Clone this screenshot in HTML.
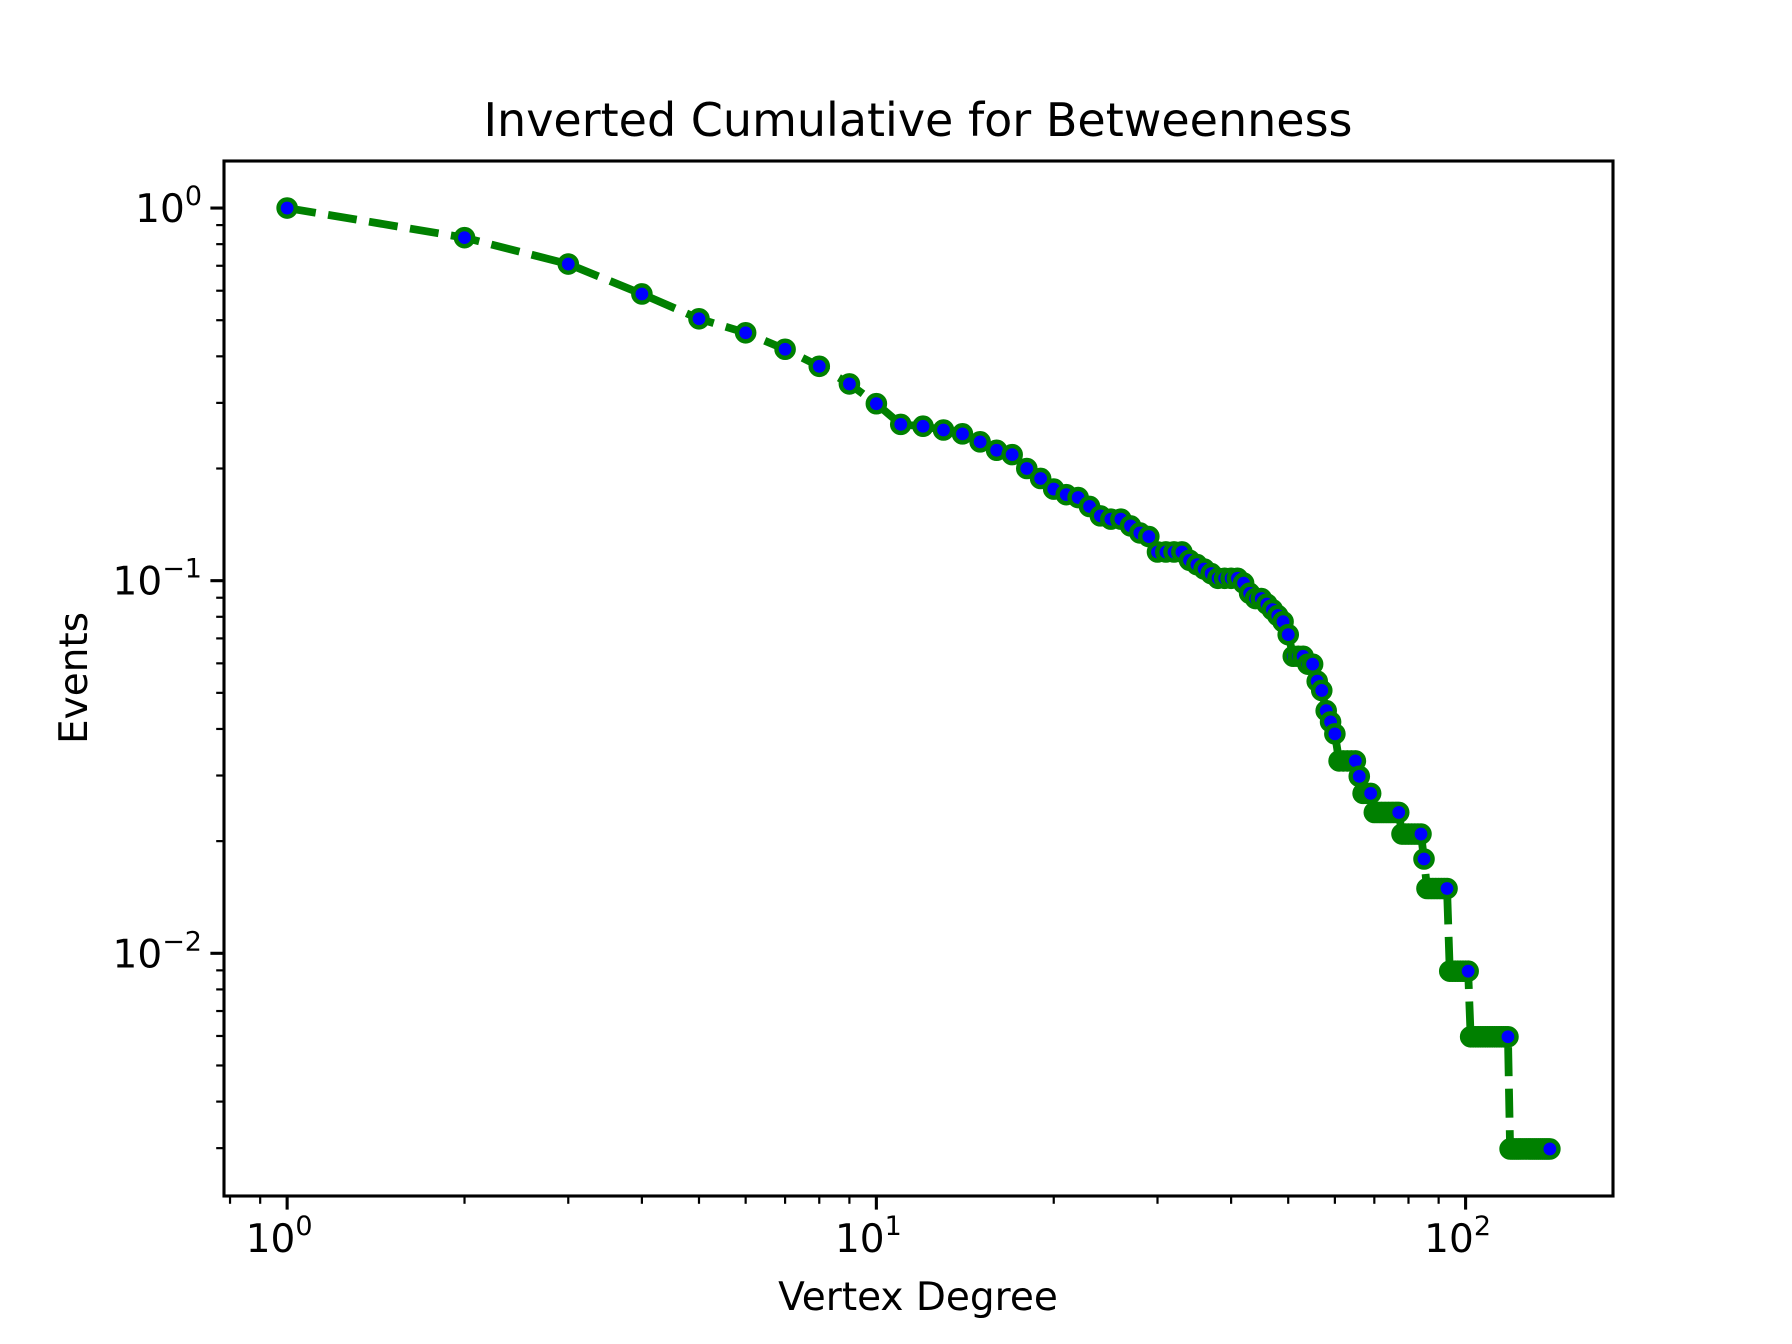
<!DOCTYPE html>
<html><head><meta charset="utf-8"><style>
html,body{margin:0;padding:0;background:#fff;}
svg{display:block;font-family:"DejaVu Sans","Liberation Sans",sans-serif;}
</style></head><body>
<svg id="chart" width="1792" height="1344" viewBox="0 0 1792 1344" xmlns="http://www.w3.org/2000/svg">
<rect width="1792" height="1344" fill="#fff"/>
<text x="918" y="136" font-size="46" text-anchor="middle" fill="#000">Inverted Cumulative for Betweenness</text>
<text x="918" y="1310" font-size="39" text-anchor="middle" fill="#000">Vertex Degree</text>
<text transform="translate(87,678) rotate(-90)" font-size="39" text-anchor="middle" fill="#000">Events</text>
<g id="plot"></g>
<g id="axes"></g>
</svg>
<script>
const degrees = [];
for (let d = 1; d <= 139; d++) degrees.push(d);
const counts = [335,279,237,197,169,155,140,126,113,100,88,87,85,83,79,75,73,67,63,59,57,56,53,50,49,49,47,45,44,40,40,40,40,38,37,36,35,34,34,34,34,33,31,30,30,29,28,27,26,24,21,21,21,20,20,18,17,15,14,13,11,11,11,11,11,10,9,9,9,8,8,8,8,8,8,8,8,7,7,7,7,7,7,7,6,5,5,5,5,5,5,5,5,3,3,3,3,3,3,3,3,2,2,2,2,2,2,2,2,2,2,2,2,2,2,2,2,2,1,1,1,1,1,1,1,1,1,1,1,1,1,1,1,1,1,1,1,1,1];
const total = 335;
const xTickLabels = ["0","1","2"];
const yTickLabels = ["0","−1","−2"];

const L=224,R=1613,T=161,B=1196;
const xmin=Math.log10(1)-0.05*Math.log10(139), xmax=Math.log10(139)*1.05;
const ymaxL=0, yminL=Math.log10(1/total);
const ySpan=ymaxL-yminL;
const yTop=ymaxL+0.05*ySpan, yBot=yminL-0.05*ySpan;
function xs(v){return L+(Math.log10(v)-xmin)/(xmax-xmin)*(R-L);}
function ys(v){return T+(yTop-Math.log10(v))/(yTop-yBot)*(B-T);}
const NS="http://www.w3.org/2000/svg";
function mk(tag,attrs,parent){const e=document.createElementNS(NS,tag);for(const k in attrs)e.setAttribute(k,attrs[k]);parent.appendChild(e);return e;}
const plot=document.getElementById('plot'), axes=document.getElementById('axes');
const vals=counts.map(c=>c/total);
let d='';
degrees.forEach((x,i)=>{d+=(i?'L':'M')+xs(x).toFixed(2)+' '+ys(vals[i]).toFixed(2);});
const line=mk('path',{d:d,fill:'none',stroke:'#008000','stroke-width':7.8,'stroke-dasharray':'29 12.5'},plot);


degrees.forEach((x,i)=>{
  const c=mk('circle',{cx:xs(x),cy:ys(vals[i]),r:8.6,fill:'#0000ff',stroke:'#008000','stroke-width':4.4},plot);
  
  
});
const frame=mk('rect',{x:L,y:T,width:R-L,height:B-T,fill:'none',stroke:'#000','stroke-width':3.1},axes);


// x ticks
xTickLabels.forEach((lab,i)=>{
  const v=Math.pow(10,+lab), px=xs(v);
  const t=mk('line',{x1:px,x2:px,y1:B,y2:B+13.6,stroke:'#000','stroke-width':3.1},axes);
  
  
  const tx=mk('text',{x:px-8,y:B+56,'font-size':39,'text-anchor':'middle'},axes);
  
  
  tx.textContent='10';
  const sp=mk('tspan',{dy:-17,'font-size':27},tx);sp.textContent=lab;
});
for(let k=-1;k<=2;k++){for(let m=2;m<=9;m++){const v=m*Math.pow(10,k);const lv=Math.log10(v);if(lv<xmin||lv>xmax)continue;
  const t=mk('line',{x1:xs(v),x2:xs(v),y1:B,y2:B+7.8,stroke:'#000','stroke-width':2.2},axes);
  
  }}
yTickLabels.forEach((lab,i)=>{
  const v=Math.pow(10,-i), py=ys(v);
  const t=mk('line',{x1:L-13.6,x2:L,y1:py,y2:py,stroke:'#000','stroke-width':3.1},axes);
  
  
  const tx=mk('text',{x:L-22,y:py+14,'font-size':39,'text-anchor':'end'},axes);
  
  
  const a=mk('tspan',{},tx);a.textContent='10';
  const sp=mk('tspan',{dy:-17,'font-size':27},tx);sp.textContent=lab;
});
for(let k=-3;k<=0;k++){for(let m=2;m<=9;m++){const v=m*Math.pow(10,k);const lv=Math.log10(v);if(lv<yBot||lv>yTop)continue;
  const t=mk('line',{x1:L-7.8,x2:L,y1:ys(v),y2:ys(v),stroke:'#000','stroke-width':2.2},axes);
  
  }}
</script>
</body></html>
